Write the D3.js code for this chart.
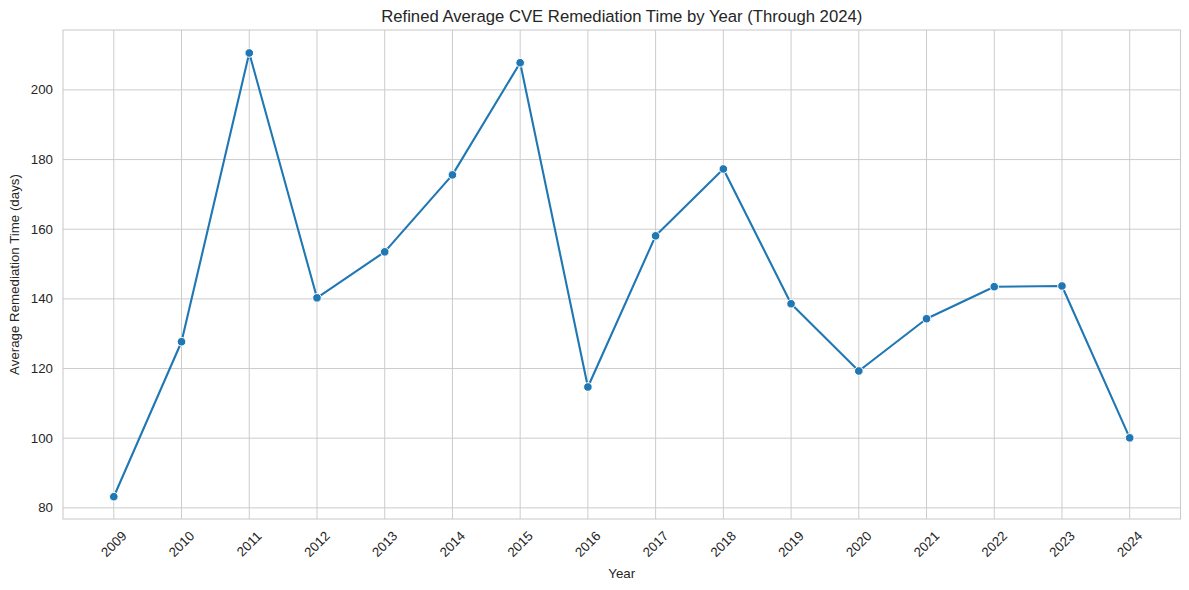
<!DOCTYPE html>
<html><head><meta charset="utf-8">
<script src="https://cdn.jsdelivr.net/npm/d3@7"></script>
<style>
body{margin:0;background:#fff;}
svg text{font-family:"Liberation Sans",Arial,sans-serif;fill:#262626;}
</style></head>
<body><svg id="c" width="1189" height="590"></svg>
<script>
const years = [2009,2010,2011,2012,2013,2014,2015,2016,2017,2018,2019,2020,2021,2022,2023,2024];
const remediationDays = [83.2,127.7,210.6,140.3,153.5,175.6,207.8,114.7,158.1,177.3,138.6,119.3,134.3,143.5,143.7,100.1];
const yTicks = [80,100,120,140,160,180,200];
const title = "Refined Average CVE Remediation Time by Year (Through 2024)";
const xLabel = "Year";
const yLabel = "Average Remediation Time (days)";

const svg = d3.select("#c");
const L = 63, R = 1180.5, T = 30, B = 519;
const x = d3.scaleLinear().domain([2009-0.75, 2024+0.75]).range([L, R]);
const y = d3.scaleLinear().domain([76.8, 217.2]).range([B, T]);

// grid
svg.append("g").selectAll("line").data(years).join("line")
  .attr("x1", d=>x(d)).attr("x2", d=>x(d)).attr("y1", T).attr("y2", B)
  .attr("stroke", "#cccccc").attr("stroke-width", 1);
svg.append("g").selectAll("line").data(yTicks).join("line")
  .attr("x1", L).attr("x2", R).attr("y1", d=>y(d)).attr("y2", d=>y(d))
  .attr("stroke", "#cccccc").attr("stroke-width", 1);
svg.append("rect").attr("x", L).attr("y", T).attr("width", R-L).attr("height", B-T)
  .attr("fill", "none").attr("stroke", "#cccccc").attr("stroke-width", 1.1);

// y tick labels
svg.append("g").selectAll("text").data(yTicks).join("text")
  .attr("x", L-10).attr("y", d=>y(d)).attr("text-anchor", "end")
  .attr("dominant-baseline", "central").attr("font-size", 13.3).text(d=>d);
// x tick labels rotated
svg.append("g").selectAll("text").data(years).join("text")
  .attr("transform", d=>`translate(${x(d)},544) rotate(-45)`)
  .attr("text-anchor", "middle").attr("dominant-baseline", "central")
  .attr("font-size", 13.3).text(d=>d);

// line
const line = d3.line().x((d,i)=>x(years[i])).y(d=>y(d));
svg.append("path").datum(remediationDays).attr("d", line)
  .attr("fill", "none").attr("stroke", "#1f77b4").attr("stroke-width", 2.1)
  .attr("stroke-linejoin", "round");
svg.append("g").selectAll("circle").data(remediationDays).join("circle")
  .attr("cx", (d,i)=>x(years[i])).attr("cy", d=>y(d)).attr("r", 4.3)
  .attr("fill", "#1f77b4").attr("stroke", "#fff").attr("stroke-width", 1);

// labels
svg.append("text").attr("x", (L+R)/2).attr("y", 22).attr("text-anchor", "middle")
  .attr("font-size", 16.7).text(title);
svg.append("text").attr("x", (L+R)/2).attr("y", 578).attr("text-anchor", "middle")
  .attr("font-size", 13.3).text(xLabel);
svg.append("text").attr("transform", `translate(19,${(T+B)/2}) rotate(-90)`)
  .attr("text-anchor", "middle").attr("font-size", 13.3).text(yLabel);
</script></body></html>
